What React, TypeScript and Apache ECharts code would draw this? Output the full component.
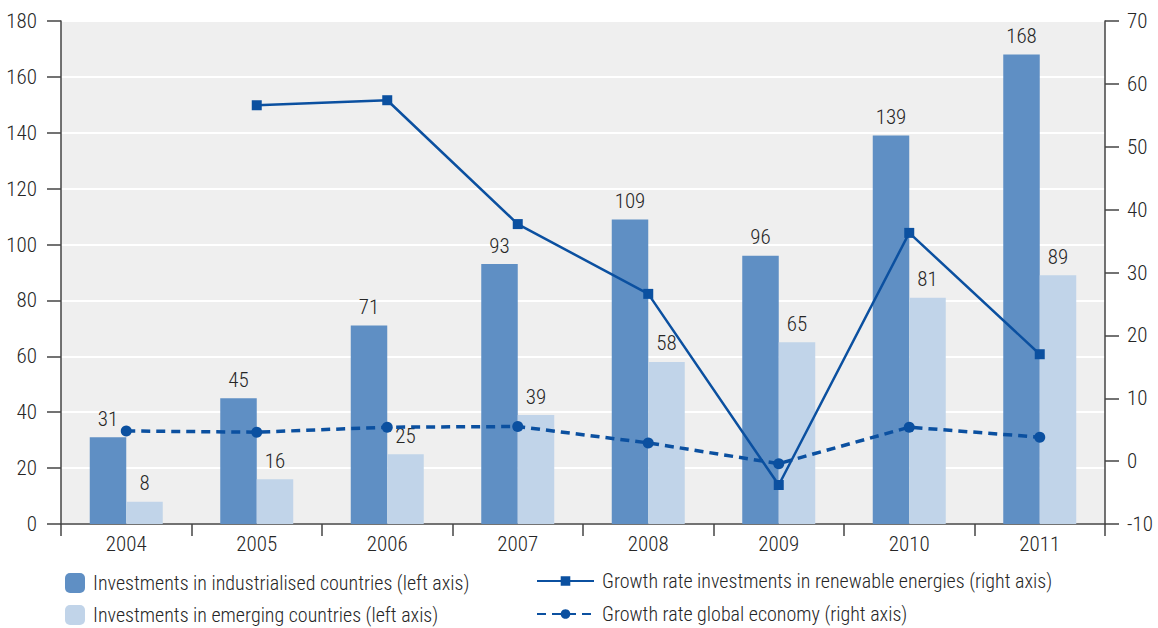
import React, { useEffect, useRef } from "react";
import * as echarts from "echarts";

const years = ["2004", "2005", "2006", "2007", "2008", "2009", "2010", "2011"];
const industrialised = [31, 45, 71, 93, 109, 96, 139, 168];
const emerging = [8, 16, 25, 39, 58, 65, 81, 89];
const growthRenewables = [null, 56.6, 57.4, 37.7, 26.6, -3.8, 36.3, 17.0];
const growthGlobal = [4.8, 4.6, 5.4, 5.5, 2.9, -0.4, 5.4, 3.8];

const nameInd = "Investments in industrialised countries (left axis)";
const nameEm = "Investments in emerging countries (left axis)";
const nameRen = "Growth rate investments in renewable energies (right axis)";
const nameGlob = "Growth rate global economy (right axis)";

const FONT = "'Roboto Condensed', 'Liberation Sans', sans-serif";
const TXT = "#262626";
const DARK = "#5f8fc4";
const LIGHT = "#c1d4e9";
const LINE = "#0b50a0";
const W = 300;

function legendAt(name: string, left: number, top: number, w: number, h: number) {
  return {
    data: [name],
    left,
    top,
    padding: 0,
    itemWidth: w,
    itemHeight: h,
    itemGap: 0,
    textStyle: { color: TXT, fontSize: 20, fontWeight: W, fontFamily: FONT, padding: [0, 0, 0, 3] },
    selectedMode: false,
  };
}

export default function App() {
  const ref = useRef<HTMLDivElement>(null);
  useEffect(() => {
    document.body.style.margin = "0";
    const chart = echarts.init(ref.current!, null, { renderer: "svg" });
    const labelStyle = {
      show: true,
      position: "top" as const,
      distance: 8,
      color: TXT,
      fontFamily: FONT,
      fontWeight: W,
      fontSize: 21,
    };
    const axisText = { color: TXT, fontSize: 21, fontWeight: W, fontFamily: FONT };
    chart.setOption({
      animation: false,
      textStyle: { fontFamily: FONT },
      grid: { left: 61, right: 53, top: 21, bottom: 104, containLabel: false },
      xAxis: {
        type: "category",
        data: years,
        boundaryGap: true,
        axisLine: { lineStyle: { color: "#444", width: 1.5 } },
        axisTick: { show: true, length: 12, lineStyle: { color: "#444", width: 1.5 } },
        axisLabel: { ...axisText, margin: 9 },
      },
      yAxis: [
        {
          type: "value",
          min: 0,
          max: 180,
          interval: 20,
          position: "left",
          axisLine: { show: true, lineStyle: { color: "#444", width: 1.5 } },
          axisTick: { show: true, length: 14, lineStyle: { color: "#444", width: 1.5 } },
          axisLabel: { ...axisText, margin: 24 },
          splitLine: { show: true, lineStyle: { color: "#ffffff", width: 2 } },
          splitArea: { show: true, areaStyle: { color: ["#efefef", "#efefef"] } },
        },
        {
          type: "value",
          min: -10,
          max: 70,
          interval: 10,
          position: "right",
          axisLine: { show: true, lineStyle: { color: "#444", width: 1.5 } },
          axisTick: { show: true, length: 14, lineStyle: { color: "#444", width: 1.5 } },
          axisLabel: { ...axisText, margin: 22 },
          splitLine: { show: false },
        },
      ],
      legend: [
        legendAt(nameInd, 65, 573, 20, 20),
        legendAt(nameEm, 65, 605, 20, 20),
        legendAt(nameRen, 536, 571, 57, 12),
        legendAt(nameGlob, 536, 604, 57, 12),
      ],
      series: [
        {
          name: nameInd,
          type: "bar",
          data: industrialised,
          barWidth: 36.5,
          barGap: "0%",
          itemStyle: { color: DARK },
          label: labelStyle,
          yAxisIndex: 0,
        },
        {
          name: nameEm,
          type: "bar",
          data: emerging,
          barWidth: 36.5,
          barGap: "0%",
          itemStyle: { color: LIGHT },
          label: labelStyle,
          yAxisIndex: 0,
        },
        {
          name: nameRen,
          type: "line",
          data: growthRenewables,
          yAxisIndex: 1,
          symbol: "rect",
          symbolSize: 10,
          lineStyle: { color: LINE, width: 2.5 },
          itemStyle: { color: LINE },
          connectNulls: false,
        },
        {
          name: nameGlob,
          type: "line",
          data: growthGlobal,
          yAxisIndex: 1,
          symbol: "circle",
          symbolSize: 11,
          lineStyle: { color: LINE, width: 3.5, type: [9, 6] },
          itemStyle: { color: LINE },
        },
      ],
    });
    return () => chart.dispose();
  }, []);
  return <div ref={ref} style={{ width: 1158, height: 628 }} />;
}
